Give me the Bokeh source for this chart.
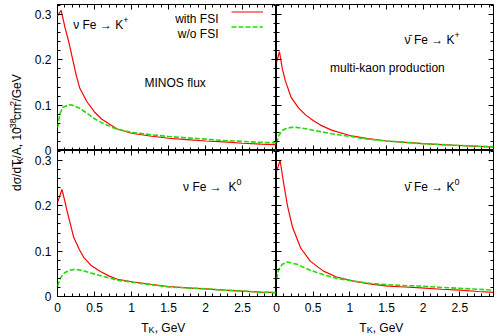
import math
from bokeh.plotting import figure
from bokeh.models import (Range1d, LinearAxis, SingleIntervalTicker, FixedTicker,
                          CustomJSTickFormatter, Label, Legend, LegendItem)
from bokeh.layouts import row, column
from bokeh.embed import file_html
from bokeh.resources import INLINE

# ---------------- data ----------------
x_nu_kp_fsi = [0, 0.05, 0.1, 0.15, 0.2, 0.25, 0.3, 0.4, 0.5, 0.6, 0.8, 1.0, 1.25, 1.5, 1.75, 2.0, 2.25, 2.5, 2.75, 2.96]
y_nu_kp_fsi = [0.297, 0.309, 0.272, 0.241, 0.205, 0.168, 0.138, 0.107, 0.085, 0.069, 0.048, 0.038, 0.032, 0.027, 0.024, 0.021, 0.019, 0.016, 0.014, 0.013]
x_nu_kp_nofsi = [0, 0.03, 0.07, 0.15, 0.2, 0.3, 0.4, 0.5, 0.6, 0.8, 1.0, 1.25, 1.5, 1.75, 2.0, 2.25, 2.5, 2.75, 2.96]
y_nu_kp_nofsi = [0.05, 0.08, 0.095, 0.101, 0.1, 0.093, 0.082, 0.07, 0.061, 0.047, 0.04, 0.035, 0.031, 0.028, 0.025, 0.022, 0.02, 0.018, 0.017]

x_anu_kp_fsi = [0, 0.04, 0.08, 0.12, 0.2, 0.3, 0.4, 0.5, 0.6, 0.75, 1.0, 1.25, 1.5, 1.75, 2.0, 2.25, 2.5, 2.75, 2.96]
y_anu_kp_fsi = [0.194, 0.218, 0.18, 0.154, 0.117, 0.094, 0.078, 0.066, 0.056, 0.045, 0.033, 0.026, 0.021, 0.018, 0.015, 0.013, 0.011, 0.009, 0.0075]
x_anu_kp_nofsi = [0, 0.03, 0.08, 0.12, 0.2, 0.27, 0.4, 0.52, 0.75, 1.0, 1.25, 1.5, 1.75, 2.0, 2.25, 2.5, 2.75, 2.96]
y_anu_kp_nofsi = [0.016, 0.033, 0.044, 0.048, 0.051, 0.051, 0.048, 0.044, 0.037, 0.031, 0.025, 0.021, 0.018, 0.015, 0.013, 0.011, 0.0095, 0.0085]

x_nu_k0_fsi = [0, 0.06, 0.1, 0.13, 0.22, 0.3, 0.36, 0.45, 0.58, 0.7, 0.81, 1.03, 1.26, 1.5, 1.75, 2.0, 2.25, 2.5, 2.75, 2.96]
y_nu_k0_fsi = [0.207, 0.236, 0.21, 0.188, 0.13, 0.102, 0.085, 0.069, 0.055, 0.045, 0.038, 0.032, 0.027, 0.022, 0.019, 0.017, 0.014, 0.012, 0.0095, 0.0085]
x_nu_k0_nofsi = [0, 0.04, 0.1, 0.17, 0.24, 0.35, 0.45, 0.6, 0.81, 1.03, 1.26, 1.5, 1.75, 2.0, 2.25, 2.5, 2.75, 2.96]
y_nu_k0_nofsi = [0.023, 0.041, 0.053, 0.058, 0.06, 0.057, 0.052, 0.045, 0.036, 0.031, 0.026, 0.021, 0.019, 0.017, 0.014, 0.012, 0.0095, 0.0085]

x_anu_k0_fsi = [0, 0.05, 0.1, 0.15, 0.22, 0.33, 0.46, 0.64, 0.82, 1.05, 1.27, 1.52, 1.75, 1.97, 2.25, 2.5, 2.75, 2.96]
y_anu_k0_fsi = [0.276, 0.3, 0.247, 0.2, 0.152, 0.107, 0.078, 0.056, 0.043, 0.034, 0.028, 0.023, 0.021, 0.019, 0.016, 0.014, 0.011, 0.009]
x_anu_k0_nofsi = [0, 0.03, 0.08, 0.15, 0.28, 0.46, 0.64, 0.82, 1.05, 1.27, 1.52, 1.75, 1.97, 2.25, 2.5, 2.75, 2.96]
y_anu_k0_nofsi = [0.038, 0.06, 0.071, 0.076, 0.071, 0.058, 0.048, 0.04, 0.034, 0.029, 0.026, 0.024, 0.023, 0.02, 0.018, 0.016, 0.014]

legend_labels = ["with FSI", "w/o FSI"]
y_tick_values = [0, 0.1, 0.2, 0.3]
x_ticks_interval = 0.5
y_ticks_interval = 0.1

# ---------------- styling / layout ----------------
FONT = "Liberation Sans"
FS = 12
XMAX = 2.96
YMAX = 0.322
FRAME_L = 219
FRAME_R = 217
FRAME_H = 146
TITLE_W = 24     # strip with rotated y title
TICK_W = 33      # strip with y tick labels
TOP_B = 4
OVL_X = 6        # horizontal overlap so edge x tick labels are not clipped
BOTTOM_B = 22    # x tick labels
XT_H = 17        # strip with x titles
TOTAL_H = TOP_B + 2 * FRAME_H + BOTTOM_B + XT_H
YSCALE = YMAX / FRAME_H  # data units per pixel
RED = "#ff0000"
GREEN = "#22dd00"

W = {' ': .278, 'd': .556, 'σ': .6, '/': .278, 'T': .611, 'K': .667, 'A': .667, ',': .278,
     '1': .556, '0': .556, '-': .333, '3': .556, '8': .556, 'c': .5, 'm': .833, '2': .556,
     'G': .778, 'e': .556, 'V': .667, 'ν': .5, '\u0304': 0.0, 'F': .611, '→': .8, '+': .584}


def tw(s, size):
    return sum(W.get(ch, .556) for ch in s) * size


def add_label(p, x, y, text, size, xoff=0, align="left", angle=0):
    lab = Label(x=x, y=y, x_offset=xoff, text=text, text_font=FONT, angle=angle,
                text_font_size=f"{size}px", text_color="black",
                text_align=align, text_baseline="alphabetic")
    p.add_layout(lab)
    return lab


def rich(p, x, y, before, after, size=FS, center=False, yscale=YSCALE, sub=3.0):
    """'before' text is right-aligned ending at x, 'after' pieces start at x."""
    if before:
        add_label(p, x, y, before, size, align="right")
    total = sum(tw(t, size if k == "n" else size * 0.75) for t, k in after)
    cum = -total / 2 if center else 0.0
    for t, k in after:
        fs = size if k == "n" else size * 0.75
        dy = 0 if k == "n" else (-sub if k == "sub" else 4.5)
        add_label(p, x, y + dy * yscale, t, fs, xoff=cum)
        cum += tw(t, fs)


fmt = CustomJSTickFormatter(code="return Number(tick.toFixed(3)).toString();")


def style_axis(ax, interval, show):
    ax.ticker = SingleIntervalTicker(interval=interval, num_minor_ticks=5)
    ax.formatter = fmt
    ax.major_tick_in = 5
    ax.major_tick_out = 0
    ax.minor_tick_in = 3
    ax.minor_tick_out = 0
    ax.axis_line_color = None
    ax.major_tick_line_color = "black"
    ax.minor_tick_line_color = "black"
    ax.major_label_text_font = FONT
    if show:
        ax.major_label_text_color = "black"
        ax.major_label_text_font_size = f"{FS}px"
        ax.major_label_standoff = 6
    else:
        ax.major_label_text_color = None
        ax.major_label_text_font_size = "0px"
        ax.major_label_standoff = 0


def panel(frame_w, left_b, right_b, top_b, bottom_b, show_x, **kw):
    p = figure(width=left_b + frame_w + right_b, height=top_b + FRAME_H + bottom_b,
               x_range=Range1d(0, XMAX), y_range=Range1d(0, YMAX),
               output_backend="svg", toolbar_location=None,
               min_border_left=left_b, min_border_right=right_b, min_border_top=top_b,
               min_border_bottom=bottom_b, **kw)
    p.grid.visible = False
    p.outline_line_color = "black"
    p.outline_line_width = 1
    p.background_fill_color = "white"
    p.border_fill_color = None
    style_axis(p.xaxis[0], x_ticks_interval, show_x)
    style_axis(p.yaxis[0], y_ticks_interval, False)
    top = LinearAxis()
    right = LinearAxis()
    p.add_layout(top, "above")
    p.add_layout(right, "right")
    style_axis(top, x_ticks_interval, False)
    style_axis(right, y_ticks_interval, False)
    return p


def strip(width, height, xr, yr, **kw):
    s = figure(width=width, height=height, x_range=xr, y_range=yr,
               output_backend="svg", toolbar_location=None, x_axis_location=None,
               outline_line_color=None, **kw)
    s.grid.visible = False
    s.background_fill_color = None
    s.border_fill_color = None
    return s


def curves(p, xa, ya, xb, yb):
    r1 = p.line(xa, ya, line_color=RED, line_width=1.2)
    r2 = p.line(xb, yb, line_color=GREEN, line_width=1.6, line_dash="5 2")
    return r1, r2


tl = panel(FRAME_L, 0, 0, TOP_B, 0, False)
tr = panel(FRAME_R, 0, 1, TOP_B, 0, False)
bl = panel(FRAME_L, OVL_X, 0, 0, BOTTOM_B, True, margin=(0, 0, 0, -OVL_X))
br = panel(FRAME_R, OVL_X, 1, 0, BOTTOM_B, True, margin=(0, 0, 0, -OVL_X))

r_fsi, r_nofsi = curves(tl, x_nu_kp_fsi, y_nu_kp_fsi, x_nu_kp_nofsi, y_nu_kp_nofsi)
curves(tr, x_anu_kp_fsi, y_anu_kp_fsi, x_anu_kp_nofsi, y_anu_kp_nofsi)
curves(bl, x_nu_k0_fsi, y_nu_k0_fsi, x_nu_k0_nofsi, y_nu_k0_nofsi)
curves(br, x_anu_k0_fsi, y_anu_k0_fsi, x_anu_k0_nofsi, y_anu_k0_nofsi)

# legend: line samples via Legend, texts to their left
leg = Legend(items=[LegendItem(label=" ", renderers=[r_fsi]),
                    LegendItem(label=" ", renderers=[r_nofsi])],
             location="top_right", margin=0, padding=2, spacing=0,
             label_height=15, glyph_height=15, glyph_width=32,
             label_width=13, label_standoff=0, label_text_font_size="1px",
             label_text_color=None,
             border_line_color=None, background_fill_alpha=0)
tl.add_layout(leg)
for lab, yy in zip(legend_labels, [0.2905, 0.2574]):
    add_label(tl, 2.176, yy, lab, FS, align="right")

# panel annotations
rich(tl, 0.78, 0.2768, "ν Fe → ", [("K", "n"), ("+", "sup")])
rich(tl, 1.176, 0.149, "", [("MINOS flux", "n")])
rich(tr, 2.32, 0.244, "ν\u0304 Fe → ", [("K", "n"), ("+", "sup")])
rich(tr, 0.73, 0.1824, "", [("multi-kaon production", "n")])
rich(bl, 2.31, 0.242, "ν Fe →  ", [("K", "n"), ("0", "sup")])
rich(br, 2.32, 0.242, "ν\u0304 Fe → ", [("K", "n"), ("0", "sup")])

# x titles in their own strips (pixel y units)
xt = [("T", "n"), ("K", "sub"), (", GeV", "n")]
xt_bl = strip(FRAME_L, XT_H, Range1d(0, XMAX), Range1d(0, XT_H), y_axis_location=None, min_border=0)
xt_br = strip(FRAME_R + 1, XT_H, Range1d(0, XMAX * (FRAME_R + 1) / FRAME_R), Range1d(0, XT_H),
              y_axis_location=None, min_border=0)
for s in (xt_bl, xt_br):
    rich(s, 1.43, 8, "", xt, center=True, yscale=1.0, sub=2.5)

# y tick labels of both rows (stacked coordinate) in a narrow strip
ytick = strip(TICK_W, TOTAL_H, Range1d(0, 1), Range1d(0, 2 * YMAX), y_axis_location="left",
              min_border_left=TICK_W - 1, min_border_right=0, min_border_top=TOP_B,
              min_border_bottom=TOTAL_H - TOP_B - 2 * FRAME_H)
ya = ytick.yaxis[0]
ya.ticker = FixedTicker(ticks=y_tick_values + [v + YMAX for v in y_tick_values], minor_ticks=[])
ya.formatter = CustomJSTickFormatter(
    args=dict(off=YMAX),
    code="const v = tick > off - 1e-6 ? tick - off : tick; return Number(v.toFixed(3)).toString();")
ya.major_tick_in = 0
ya.major_tick_out = 0
ya.minor_tick_in = 0
ya.minor_tick_out = 0
ya.axis_line_color = None
ya.major_tick_line_color = None
ya.minor_tick_line_color = None
ya.major_label_text_font = FONT
ya.major_label_text_font_size = f"{FS}px"
ya.major_label_text_color = "black"
ya.major_label_standoff = 5

# rotated y title in its own strip (pixel units)
ytitle = strip(TITLE_W, TOTAL_H, Range1d(0, TITLE_W), Range1d(0, TOTAL_H),
               y_axis_location=None, min_border=0)
ypieces = [("dσ/dT", "n"), ("K", "sub"), ("/A, 10", "n"), ("-38", "sup"),
           ("cm", "n"), ("2", "sup"), ("/GeV", "n")]
total = sum(tw(t, FS if k == "n" else FS * 0.75) for t, k in ypieces)
cum = (TOTAL_H - 149) - total / 2
for t, k in ypieces:
    fs = FS if k == "n" else FS * 0.75
    dx = 0 if k == "n" else (3 if k == "sub" else -4.5)
    add_label(ytitle, 16.5 + dx, cum, t, fs, angle=math.pi / 2)
    cum += tw(t, fs)

grid = column(row(tl, tr), row(bl, br), row(xt_bl, xt_br))
root = row(ytitle, ytick, grid)

open("out.html", "w").write(file_html(root, INLINE))
